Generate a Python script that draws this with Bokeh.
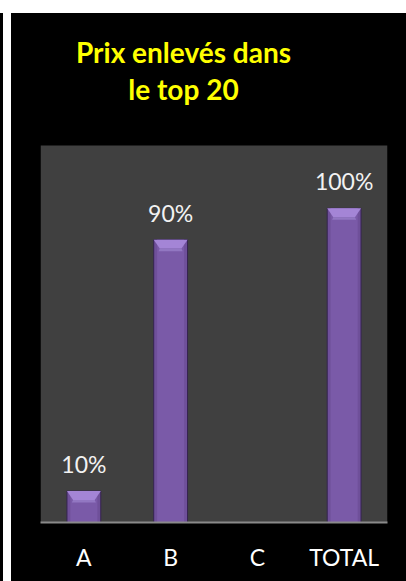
from bokeh.plotting import figure
from bokeh.models import ColumnDataSource, FixedTicker, Range1d, Label, Spacer, BoxAnnotation
from bokeh.layouts import column, row
from bokeh.embed import file_html
from bokeh.resources import INLINE
from bokeh.core.properties import value

# ---- data ----
categories = ["A", "B", "C", "TOTAL"]
shares = [0.10, 0.90, 0.0, 1.00]
title_lines = ["Prix enlevés dans", "le top 20"]

xpos = list(range(len(categories)))
bar_w = 0.39
y_max = 1.2                       # top of the grey plot area
fig_w, fig_h = 395, 568
border_bottom = 59
plot_area_h = 377                  # grey area height in px
frame_h = fig_h - border_bottom
y_top = y_max * frame_h / plot_area_h   # extra room above for the title

p = figure(width=fig_w, height=fig_h, output_backend="svg", toolbar_location=None,
           x_range=Range1d(-0.5, len(categories) - 0.5), y_range=Range1d(0, y_top),
           min_border_left=29, min_border_right=19, min_border_top=0,
           min_border_bottom=border_bottom)
p.background_fill_color = "#000000"
p.border_fill_color = "#000000"
p.outline_line_color = None
p.grid.visible = False
p.styles = {"background-color": "#000000"}

p.add_layout(BoxAnnotation(bottom=0, top=y_max, fill_color="#404040", fill_alpha=1,
                           line_color=None, level="underlay"))

# title as two centred lines (screen units, from plot frame bottom-left)
for line, ybase in zip(title_lines, [471, 434]):
    p.add_layout(Label(x=143, y=ybase, x_units="screen", y_units="screen", text=line,
                       text_align="center", text_baseline="alphabetic",
                       text_color="#ffff00", text_font="Lato", text_font_style="bold",
                       text_font_size="28px"))

p.yaxis.visible = False
ax = p.xaxis[0]
ax.ticker = FixedTicker(ticks=xpos)
ax.major_label_overrides = {i: c for i, c in zip(xpos, categories)}
ax.major_tick_line_color = None
ax.minor_tick_line_color = None
ax.axis_line_color = "#8a8a8a"
ax.axis_line_width = 2
ax.major_label_text_color = "#ffffff"
ax.major_label_text_font = "Lato"
ax.major_label_text_font_size = "23px"
ax.major_label_standoff = 14

# bars
bx = [x for x, v in zip(xpos, shares) if v > 0]
bv = [v for v in shares if v > 0]
src = ColumnDataSource(dict(x=bx, top=bv, lab=[f"{int(round(v*100))}%" for v in bv]))
p.vbar(x="x", top="top", width=bar_w, source=src, fill_color="#6f509a",
       line_color="#35244f", line_width=1)
p.vbar(x="x", top="top", width=bar_w * 0.8, source=src, fill_color="#7a5aa8",
       line_color=None)
# top bevel
dy = 0.028
dx = bar_w * 0.18
xs = [[x - bar_w/2, x + bar_w/2, x + bar_w/2 - dx, x - bar_w/2 + dx] for x in bx]
ys = [[v, v, v - dy, v - dy] for v in bv]
p.patches(xs=xs, ys=ys, fill_color="#a485d6", line_color=None)
xs2 = [[x - bar_w/2 + dx, x + bar_w/2 - dx, x + bar_w/2 - dx*0.8, x - bar_w/2 + dx*0.8] for x in bx]
ys2 = [[v - dy, v - dy, v - dy*1.3, v - dy*1.3] for v in bv]
p.patches(xs=xs2, ys=ys2, fill_color="#9277c2", line_color=None)

p.text(x="x", y="top", text="lab", source=src, text_align="center",
       text_baseline="alphabetic", y_offset=-27, text_color="#f2f2f2",
       text_font=value("Lato"), text_font_size="23px")

strip = Spacer(width=3, height=fig_h, styles={"background-color": "#000000"})
gap = Spacer(width=8, height=fig_h)
layout = column(Spacer(height=13, width=406), row(strip, gap, p))
open("out.html", "w").write(file_html(layout, INLINE))
